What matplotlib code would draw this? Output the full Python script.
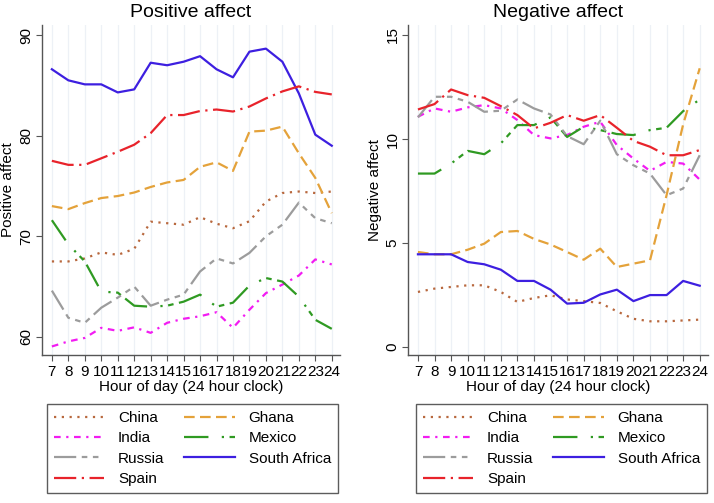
import numpy as np
import matplotlib
matplotlib.use('Agg')
import matplotlib.pyplot as plt

plt.rcParams['font.family'] = ['Liberation Sans', 'DejaVu Sans']

hours = list(range(7, 25))
countries = ['China', 'Ghana', 'India', 'Mexico', 'Russia', 'South Africa', 'Spain']

# positive affect by hour
pos_china = [67.5, 67.5, 67.8, 68.4, 68.15, 68.75, 71.45, 71.3, 71.15, 71.9, 71.25, 70.8, 71.5, 73.45, 74.3, 74.45, 74.3, 74.45]
pos_ghana = [73.0, 72.7, 73.3, 73.8, 74.0, 74.35, 74.9, 75.35, 75.6, 76.9, 77.35, 76.5, 80.4, 80.5, 80.9, 78.25, 75.8, 72.3]
pos_india = [59.05, 59.55, 59.9, 60.9, 60.6, 60.95, 60.4, 61.4, 61.8, 62.05, 62.45, 60.9, 62.7, 64.35, 65.2, 66.1, 67.7, 67.2]
pos_mexico = [71.6, 69.2, 67.5, 64.5, 64.4, 63.1, 63.0, 63.1, 63.5, 64.2, 63.0, 63.4, 65.1, 65.85, 65.5, 64.0, 61.7, 60.8]
pos_russia = [64.6, 61.9, 61.4, 62.9, 63.9, 65.0, 63.1, 63.7, 64.2, 66.5, 67.8, 67.3, 68.35, 70.0, 71.15, 73.35, 71.8, 71.3]
pos_safrica = [86.6, 85.5, 85.1, 85.1, 84.3, 84.6, 87.25, 87.0, 87.35, 87.9, 86.6, 85.8, 88.35, 88.65, 87.35, 84.2, 80.1, 79.0]
pos_spain = [77.5, 77.1, 77.1, 77.75, 78.4, 79.1, 80.25, 82.05, 82.05, 82.45, 82.6, 82.4, 82.9, 83.7, 84.4, 84.9, 84.35, 84.1]

# negative affect by hour
neg_china = [2.65, 2.81, 2.89, 2.97, 2.97, 2.65, 2.17, 2.36, 2.49, 2.29, 2.21, 2.12, 1.72, 1.36, 1.24, 1.24, 1.28, 1.32]
neg_ghana = [4.57, 4.46, 4.46, 4.68, 4.97, 5.53, 5.58, 5.2, 4.93, 4.57, 4.2, 4.73, 3.85, 4.01, 4.17, 7.3, 10.7, 13.4]
neg_india = [11.07, 11.47, 11.31, 11.52, 11.63, 11.47, 10.91, 10.19, 10.03, 10.19, 10.59, 10.83, 9.71, 9.06, 8.47, 8.9, 8.82, 8.05]
neg_mexico = [8.34, 8.34, 8.82, 9.43, 9.27, 9.79, 10.67, 10.67, 11.04, 10.1, 10.59, 10.43, 10.24, 10.19, 10.43, 10.54, 11.34, 11.9]
neg_russia = [11.04, 12.03, 12.03, 11.79, 11.31, 11.36, 11.9, 11.47, 11.18, 10.14, 9.75, 10.88, 9.27, 8.74, 8.34, 7.3, 7.62, 9.22]
neg_safrica = [4.46, 4.46, 4.46, 4.09, 3.98, 3.72, 3.18, 3.18, 2.76, 2.09, 2.13, 2.53, 2.76, 2.21, 2.5, 2.5, 3.18, 2.95]
neg_spain = [11.42, 11.68, 12.38, 12.11, 11.98, 11.58, 11.15, 10.51, 10.78, 11.15, 10.88, 11.15, 10.54, 9.91, 9.63, 9.22, 9.22, 9.47]

pos_data = [pos_china, pos_ghana, pos_india, pos_mexico, pos_russia, pos_safrica, pos_spain]
neg_data = [neg_china, neg_ghana, neg_india, neg_mexico, neg_russia, neg_safrica, neg_spain]

colors = {'China': '#b8683e', 'Ghana': '#e4a23a', 'India': '#f21cf2', 'Mexico': '#2f9a22',
          'Russia': '#9c9c9c', 'South Africa': '#3d1fe0', 'Spain': '#e8232b'}
styles = {'China': (0, (1, 2.5)),
          'Ghana': (0, (4.8, 2.4)),
          'India': (0, (3, 2.5, 1, 2.5)),
          'Mexico': (0, (11, 6, 1, 2.5, 2.5, 2.5)),
          'Russia': (0, (10, 2.5, 2.5, 2.5, 2.5, 2.5, 2.5, 2.5)),
          'South Africa': '-',
          'Spain': (0, (10, 2.5, 1, 2.5))}

fig = plt.figure(figsize=(7.14, 5.03), dpi=100)
ax1 = fig.add_axes([42/714, 1 - 355/503, 298/714, 330/503])
ax2 = fig.add_axes([408/714, 1 - 355/503, 300/714, 330/503])


def draw_panel(ax, data, title, ylabel, ylim, yticks):
    lines = {}
    for name, vals in zip(countries, data):
        ln, = ax.plot(hours, vals, color=colors[name], linestyle=styles[name], lw=1.6, label=name)
        lines[name] = ln
    ax.set_xlim(6.4, 24.5)
    ax.set_ylim(*ylim)
    ax.set_xticks(hours)
    ax.set_yticks(yticks)
    ax.set_yticklabels([str(t) for t in yticks], rotation=90, va='center')
    ax.tick_params(axis='both', labelsize=11, direction='out', length=4, color='#555555', pad=2)
    ax.tick_params(axis='x', pad=3)
    ax.grid(axis='x', color='#edf1f6', lw=0.9)
    ax.set_axisbelow(True)
    for s in ['top', 'right']:
        ax.spines[s].set_visible(False)
    for s in ['left', 'bottom']:
        ax.spines[s].set_color('#555555')
        ax.spines[s].set_linewidth(1.0)
    ax.set_title(title, fontsize=14, pad=6)
    ax.set_ylabel(ylabel, fontsize=11, labelpad=3)
    ax.set_xlabel('Hour of day (24 hour clock)', fontsize=11, labelpad=1)
    order = ['China', 'India', 'Russia', 'Spain', 'Ghana', 'Mexico', 'South Africa']
    return [lines[n] for n in order], order


h1, l1 = draw_panel(ax1, pos_data, 'Positive affect', 'Positive affect', (58.2, 91.0), [60, 70, 80, 90])
h2, l2 = draw_panel(ax2, neg_data, 'Negative affect', 'Negative affect', (-0.38, 15.48), [0, 5, 10, 15])

for h, l, x0 in [(h1, l1, 47), (h2, l2, 416)]:
    leg = fig.legend(h, l, ncol=2, loc='upper left',
                     bbox_to_anchor=(x0/714, 1 - 404/503),
                     fontsize=11, frameon=True, fancybox=False, edgecolor='#333333',
                     handlelength=3.3, handletextpad=0.9, columnspacing=1.3,
                     labelspacing=0.42, borderpad=0.45, borderaxespad=0)
    leg.get_frame().set_linewidth(1.0)

fig.savefig('out.png', dpi=100)
